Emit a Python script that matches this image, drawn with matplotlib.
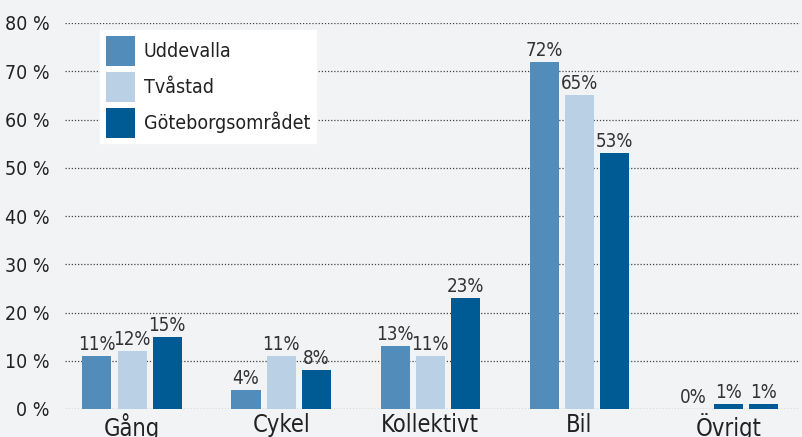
import matplotlib
matplotlib.use("Agg")
import matplotlib.pyplot as plt
import numpy as np
from matplotlib.patches import Patch

plt.rcParams['font.family'] = ['DejaVu Sans']
plt.rcParams['font.stretch'] = 'condensed'

categories = ["Gång", "Cykel", "Kollektivt", "Bil", "Övrigt"]
series = ["Uddevalla", "Tvåstad", "Göteborgsområdet"]
uddevalla = [11, 4, 13, 72, 0]
tvastad = [12, 11, 11, 65, 1]
goteborg = [15, 8, 23, 53, 1]
values = [uddevalla, tvastad, goteborg]
colors = ["#518cbb", "#bad0e5", "#005a94"]
yticks = [0, 10, 20, 30, 40, 50, 60, 70, 80]

bg = "#f2f3f5"
fig = plt.figure(figsize=(8.02, 4.37), dpi=100, facecolor=bg)
ax = fig.add_axes([65/802, 1-409/437, 735/802, 386/437])
ax.set_facecolor(bg)

x = np.arange(len(categories))
w = 0.195
off = 0.236
for i, (vals, c) in enumerate(zip(values, colors)):
    cols = [c] * len(vals)
    if i == 1:
        cols[4] = colors[2]
    ax.bar(x + (i - 1) * off, vals, width=w, color=cols, zorder=3)
    for xi, v in zip(x + (i - 1) * off, vals):
        ax.text(xi, v + 0.4, f"{v}%", ha='center', va='bottom',
                fontsize=13.5, color="#333333", zorder=4)

ax.set_ylim(0, 80)
ax.set_xlim(-0.45, 4.48)
ax.set_yticks(yticks)
ax.set_yticklabels([f"{t} %" for t in yticks], fontsize=14, color="#222222")
ax.set_xticks(x)
ax.set_xticklabels(categories, fontsize=17, color="#222222")
ax.tick_params(axis='both', length=0)
ax.tick_params(axis='y', pad=11)
ax.tick_params(axis='x', pad=3)
for s in ax.spines.values():
    s.set_visible(False)
ax.yaxis.grid(True, linestyle=(0, (1, 1.5)), color="#444444", linewidth=0.9, zorder=0)
ax.set_axisbelow(True)

handles = [Patch(facecolor=c, label=s) for s, c in zip(series, colors)]
leg = ax.legend(handles=handles, loc='upper left', bbox_to_anchor=(35/735, 1 - 7/386),
                fontsize=14, frameon=True, fancybox=False, edgecolor='white',
                facecolor='white', framealpha=1, handlelength=1.5, handleheight=2.0,
                handletextpad=0.45, labelspacing=0.3, borderpad=0.3, borderaxespad=0)
for t in leg.get_texts():
    t.set_color("#222222")

fig.savefig("out.png", dpi=100, facecolor=bg)
